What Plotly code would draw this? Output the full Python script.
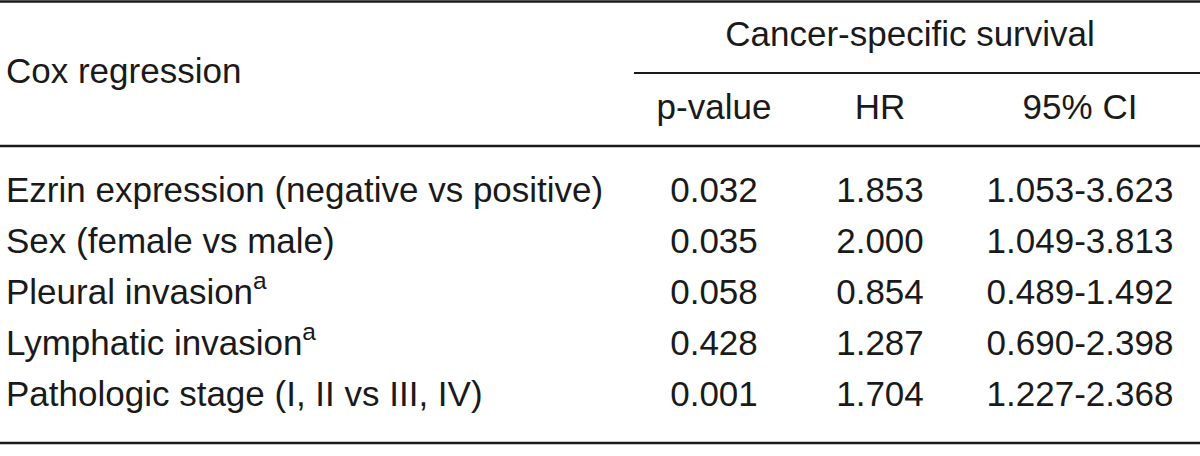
import plotly.graph_objects as go

# ---- data ----
group_header = "Cancer-specific survival"
corner_label = "Cox regression"
col_headers = ["p-value", "HR", "95% CI"]
variables = [
    "Ezrin expression (negative vs positive)",
    "Sex (female vs male)",
    "Pleural invasion<sup>a</sup>",
    "Lymphatic invasion<sup>a</sup>",
    "Pathologic stage (I, II vs III, IV)",
]
p_values = ["0.032", "0.035", "0.058", "0.428", "0.001"]
hr_values = ["1.853", "2.000", "0.854", "1.287", "1.704"]
ci_values = ["1.053-3.623", "1.049-3.813", "0.489-1.492", "0.690-2.398", "1.227-2.368"]

# ---- layout (positions in pixels) ----
W, H = 1200, 456
col_x = [714, 880, 1080]
left_x = 6
row_y = [193, 244, 295, 346, 397]
header_y = 110
group_y = 37
group_x = 910
corner_y = 74
FONT = "Liberation Sans, Arial, Helvetica, sans-serif"
FS = 35
COLOR = "#1a1a1a"

fig = go.Figure()

# left column (variables + corner label)
fig.add_trace(go.Scatter(
    x=[left_x] * (len(variables) + 1),
    y=[corner_y] + row_y,
    text=[corner_label] + variables,
    mode="text", textposition="middle right",
    textfont=dict(family=FONT, size=FS, color=COLOR),
    hoverinfo="skip", showlegend=False,
))

# group header
fig.add_trace(go.Scatter(
    x=[group_x], y=[group_y], text=[group_header],
    mode="text", textposition="middle center",
    textfont=dict(family=FONT, size=FS, color=COLOR),
    hoverinfo="skip", showlegend=False,
))

# column headers
fig.add_trace(go.Scatter(
    x=col_x, y=[header_y] * 3, text=col_headers,
    mode="text", textposition="middle center",
    textfont=dict(family=FONT, size=FS, color=COLOR),
    hoverinfo="skip", showlegend=False,
))

# data columns
for cx, vals in zip(col_x, [p_values, hr_values, ci_values]):
    fig.add_trace(go.Scatter(
        x=[cx] * len(vals), y=row_y, text=vals,
        mode="text", textposition="middle center",
        textfont=dict(family=FONT, size=FS, color=COLOR),
        hoverinfo="skip", showlegend=False,
    ))

# rules
lines = [
    (0, W, 1.5, 2.5),
    (634, W, 73, 1.8),
    (0, W, 146, 2.5),
    (0, W, 443, 2.5),
]
for x0, x1, y, w in lines:
    fig.add_shape(type="line", x0=x0, x1=x1, y0=y, y1=y, xref="x", yref="y",
                  line=dict(color=COLOR, width=w))

fig.update_layout(
    width=W, height=H,
    margin=dict(l=0, r=0, t=0, b=0),
    paper_bgcolor="white", plot_bgcolor="white",
    xaxis=dict(range=[0, W], visible=False, fixedrange=True),
    yaxis=dict(range=[H, 0], visible=False, fixedrange=True),
)

fig.write_html("out.html", post_script="document.body.style.margin='0';",
               config={"displayModeBar": False})
